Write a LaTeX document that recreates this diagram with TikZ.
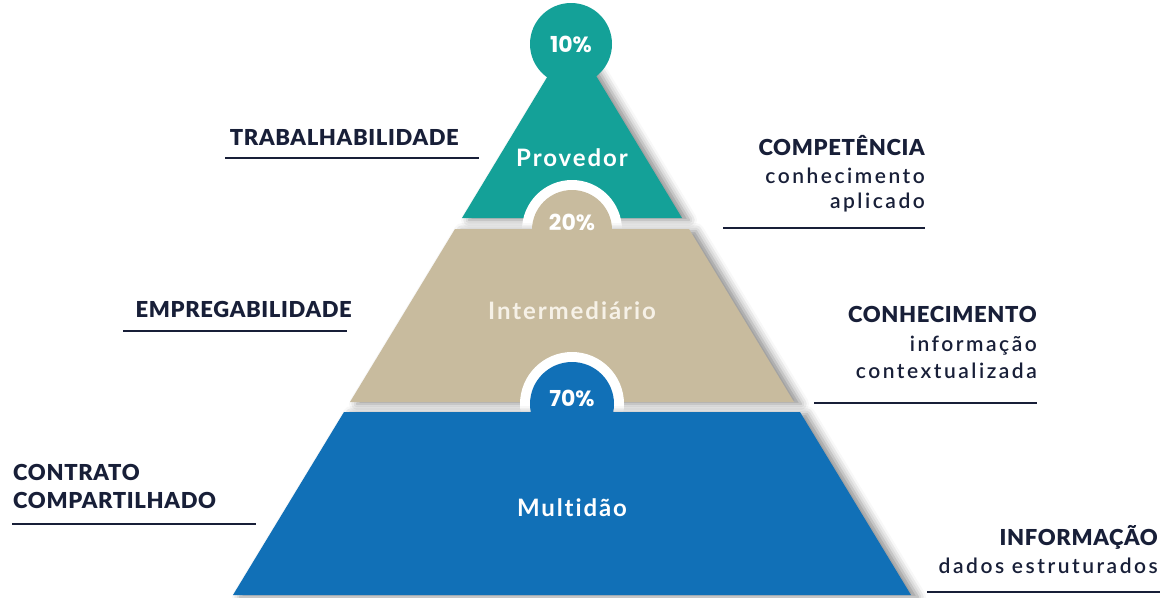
\documentclass[tikz,border=0pt]{standalone}
\usepackage{fontspec}
\setmainfont{Lato}
\IfFontExistsTF{Lato Black}
  {\newfontfamily\headfont{Lato Black}[LetterSpace=3]}
  {\newfontfamily\headfont{Lato}[LetterSpace=3,UprightFeatures={FakeBold=1.5}]}
\IfFontExistsTF{Lato Semibold}
  {\newfontfamily\subfont{Lato Semibold}[LetterSpace=12]}
  {\newfontfamily\subfont{Lato}[LetterSpace=12,FakeBold=0.6]}
\newfontfamily\layerfont{Lato}[LetterSpace=8,Ligatures=NoCommon]
\newfontfamily\pctfont{Poppins}
\usepackage{tikz}
\usetikzlibrary{positioning,shadows.blur}
\definecolor{pyTeal}{RGB}{20,161,152}
\definecolor{pyBeige}{RGB}{200,187,158}
\definecolor{pyBlue}{RGB}{17,112,183}
\definecolor{pyNavy}{RGB}{24,31,56}
\definecolor{pyCream}{RGB}{246,241,231}
\newcommand\labelrule[2]{%
\draw[rule] (#1) -- (#2);
}

\begin{document}
\begin{tikzpicture}[x=1pt,y=-1pt,
	layershadow/.style={blur shadow={shadow xshift=7pt, shadow yshift=-2pt, shadow blur radius=8pt, shadow opacity=45}},
	head/.style={text=pyNavy, inner sep=0pt, font=\headfont\fontsize{22}{24}\selectfont},
	sub/.style={text=pyNavy, inner sep=0pt, font=\subfont\fontsize{21}{24}\selectfont},
	layer/.style={text=white, font=\layerfont\bfseries\fontsize{24}{26}\selectfont},
	pct/.style={text=white, font=\pctfont\bfseries\fontsize{22}{24}\selectfont},
	rule/.style={pyNavy, line width=2pt}]
	%% picture size
	\useasboundingbox (0,0) rectangle (1172,597);

	%% top layer
	\fill[pyTeal, layershadow] (462,218) -- (572,36) -- (682,218) -- cycle;
	\fill[pyTeal] (571,44) circle(41);

	%% middle layer
	\fill[white] (572,230) circle(50);
	\fill[pyBeige, layershadow] (455,229) -- (689,229) -- (794,402) -- (350,402) -- cycle;
	\fill[pyBeige] (572,230) circle(40);

	%% bottom layer
	\fill[white] (572,404) circle(52);
	\fill[pyBlue, layershadow] (344,412) -- (800,412) -- (911,595) -- (233,595) -- cycle;
	\fill[pyBlue] (572,404) circle(42);

	%% texts in the pyramid
	\node[pct] (p10) at (571,44) {10\%};
	\node[pct] (p20) at (572,222) {20\%};
	\node[pct] (p70) at (572,398) {70\%};
	\node[layer] (prov) at (572,158) {Provedor};
	\node[layer, text=pyCream] (inter) at (572,311) {Intermediário};
	\node[layer] (mult) at (572,508) {Multidão};

	%% left side
	\node[head, anchor=base east] (trab) at (459,145) {TRABALHABILIDADE};
	\coordinate (trabL) at (225,158);
	\coordinate (trabR) at (479,158);
	\labelrule{trabL}{trabR}

	\node[head, anchor=base east] (empr) at (352,317) {EMPREGABILIDADE};
	\coordinate (emprL) at (123,331);
	\coordinate (emprR) at (347,331);
	\labelrule{emprL}{emprR}

	\node[head, anchor=base west] (cont) at (13,480) {CONTRATO};
	\node[head, anchor=base west] (comp) at (13,508) {COMPARTILHADO};
	\coordinate (contL) at (12,524);
	\coordinate (contR) at (256,524);
	\labelrule{contL}{contR}

	%% right side
	\node[head, anchor=base east] (cpt) at (925,155) {COMPETÊNCIA};
	\node[sub, anchor=base east] (cpt1) at (925,183) {conhecimento};
	\node[sub, anchor=base east] (cpt2) at (925,208) {aplicado};
	\coordinate (cptL) at (723,228);
	\coordinate (cptR) at (925,228);
	\labelrule{cptL}{cptR}

	\node[head, anchor=base east] (conh) at (1037,322) {CONHECIMENTO};
	\node[sub, anchor=base east] (conh1) at (1037,351) {informação};
	\node[sub, anchor=base east] (conh2) at (1037,378) {contextualizada};
	\coordinate (conhL) at (814,403);
	\coordinate (conhR) at (1037,403);
	\labelrule{conhL}{conhR}

	\node[head, anchor=base east] (info) at (1158,545) {INFORMAÇÃO};
	\node[sub, anchor=base east] (info1) at (1158,573) {dados estruturados};
	\coordinate (infoL) at (927,592);
	\coordinate (infoR) at (1160,592);
	\labelrule{infoL}{infoR}
\end{tikzpicture}
\end{document}
